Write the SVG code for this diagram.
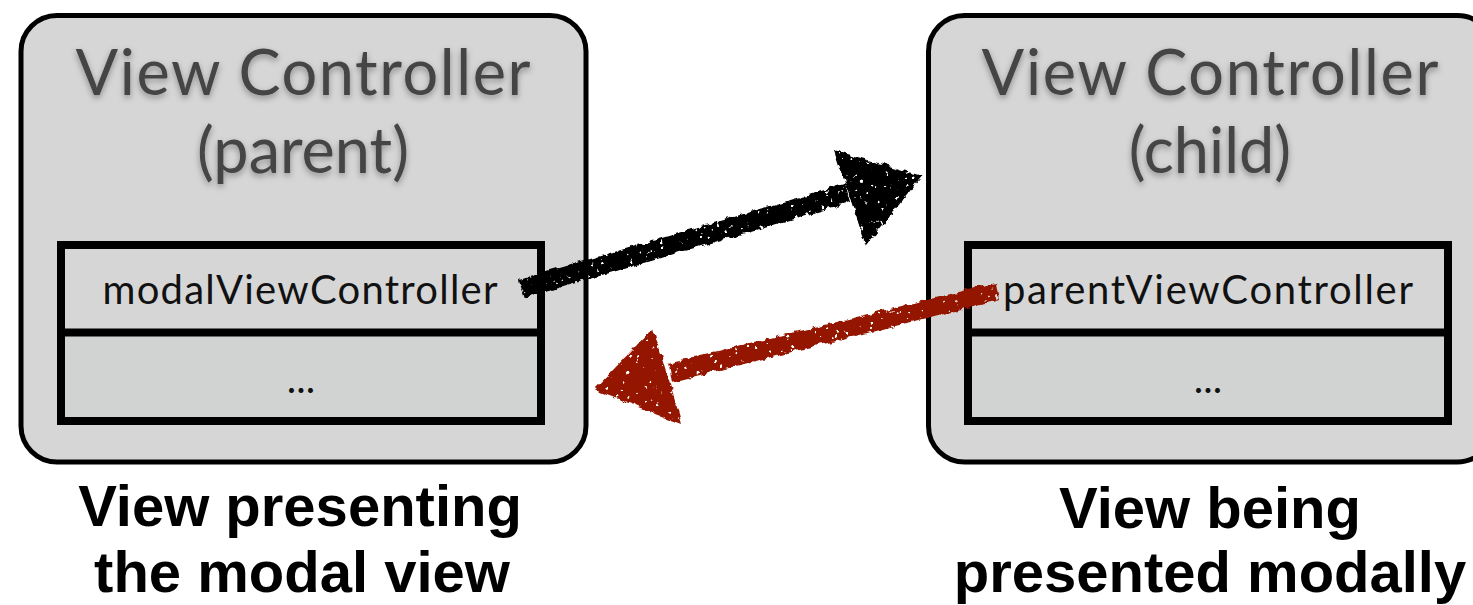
<svg xmlns="http://www.w3.org/2000/svg" width="1473" height="605" viewBox="0 0 1473 605">
  <style>
    .outer { fill: #d6d6d6; stroke: #000; stroke-width: 5; }
    .slot-top { fill: #d6d6d6; }
    .slot-bottom { fill: #d1d3d3; }
    .slot-frame { fill: none; stroke: #000; stroke-width: 8; }
    .title { font-family: Lato, "Noto Sans", sans-serif; font-size: 63px; fill: #444; text-anchor: middle; filter: url(#soft-shadow); }
    .member { font-family: Lato, "Noto Sans", sans-serif; font-size: 40px; fill: #111; text-anchor: middle; }
    .caption { font-family: "Liberation Sans", Arial, sans-serif; font-weight: bold; font-size: 58px; fill: #000; text-anchor: middle; }
  </style>
  <defs>
    <filter id="soft-shadow" x="-10%" y="-20%" width="120%" height="160%">
      <feDropShadow dx="0" dy="3" stdDeviation="3" flood-color="#000" flood-opacity="0.35"/>
    </filter>
    <!-- crayon-like roughness for the hand-drawn arrows -->
    <filter id="chalk" x="-10%" y="-20%" width="120%" height="140%">
      <feTurbulence type="fractalNoise" baseFrequency="0.12" numOctaves="2" seed="3" result="n"/>
      <feDisplacementMap in="SourceGraphic" in2="n" scale="7" xChannelSelector="R" yChannelSelector="G" result="d"/>
      <feTurbulence type="fractalNoise" baseFrequency="0.2" numOctaves="2" seed="11" result="n2"/>
      <feColorMatrix in="n2" type="matrix" values="0 0 0 0 0  0 0 0 0 0  0 0 0 0 0  0 0 0 -16 12.2" result="holes"/>
      <feComposite in="d" in2="holes" operator="in"/>
    </filter>
  </defs>

  <rect width="1473" height="605" fill="#fff"/>

  <!-- presenting controller -->
  <g id="parent-vc">
    <rect class="outer" x="21" y="15.5" width="565" height="446.5" rx="36"/>
    <text class="title" x="303" y="95" textLength="455" lengthAdjust="spacing">View Controller</text>
    <text class="title" x="303" y="173">(parent)</text>
    <rect class="slot-top" x="61" y="245" width="480" height="88"/>
    <rect class="slot-bottom" x="61" y="333" width="480" height="88"/>
    <rect class="slot-frame" x="61" y="245" width="480" height="176"/>
    <line x1="61" y1="332.5" x2="541" y2="332.5" stroke="#000" stroke-width="8"/>
    <text class="member" x="300" y="304" textLength="395" lengthAdjust="spacing">modalViewController</text>
    <text class="member" x="301" y="393">...</text>
  </g>

  <!-- presented controller -->
  <g id="child-vc">
    <rect class="outer" x="928.5" y="15.5" width="565" height="446.5" rx="36"/>
    <text class="title" x="1210" y="95" textLength="457" lengthAdjust="spacing">View Controller</text>
    <text class="title" x="1210" y="173">(child)</text>
    <rect class="slot-top" x="968" y="245" width="480" height="88"/>
    <rect class="slot-bottom" x="968" y="333" width="480" height="88"/>
    <rect class="slot-frame" x="968" y="245" width="480" height="176"/>
    <line x1="968" y1="332.5" x2="1448" y2="332.5" stroke="#000" stroke-width="8"/>
    <text class="member" x="1208" y="304" textLength="410" lengthAdjust="spacing">parentViewController</text>
    <text class="member" x="1208" y="393">...</text>
  </g>

  <!-- captions -->
  <g id="parent-caption">
    <text class="caption" x="300" y="526">View presenting</text>
    <text class="caption" x="302" y="592">the modal view</text>
  </g>
  <g id="child-caption">
    <text class="caption" x="1210" y="528">View being</text>
    <text class="caption" x="1210" y="592">presented modally</text>
  </g>

  <!-- references between the two controllers -->
  <g id="connectors" filter="url(#chalk)">
    <g id="modal-ref" fill="#000">
      <path d="M519 280 L845 184 L850 202 L525 298 Z"/>
      <polygon points="834,150 922,176 866,246"/>
    </g>
    <g id="parent-ref" fill="#951805">
      <path d="M996 283 L668 363 L672 382 L999 300 Z"/>
      <polygon points="653,328 594,390 682,424"/>
    </g>
  </g>
</svg>
